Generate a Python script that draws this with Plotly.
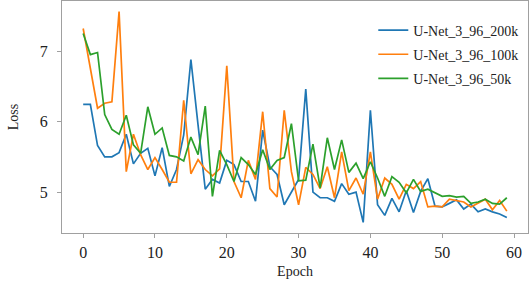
import plotly.graph_objects as go

epochs = list(range(60))

loss_200k = [6.245, 6.245, 5.66, 5.50, 5.50, 5.56, 5.82, 5.40, 5.55, 5.62,
             5.23, 5.63, 5.08, 5.32, 5.81, 6.88, 5.95, 5.04, 5.18, 5.13,
             5.45, 5.39, 5.15, 5.15, 4.87, 5.88, 5.36, 5.25, 4.82, 5.01,
             5.18, 6.46, 5.00, 4.92, 4.92, 4.87, 5.12, 4.97, 5.00, 4.57,
             6.16, 4.82, 4.67, 4.91, 4.72, 5.02, 4.71, 5.01, 5.19, 4.80,
             4.79, 4.84, 4.89, 4.76, 4.83, 4.72, 4.76, 4.72, 4.69, 4.64]

loss_100k = [7.32, 6.76, 6.19, 6.26, 6.28, 7.56, 5.29, 5.82, 5.53, 5.32,
             5.49, 5.32, 5.14, 5.14, 6.30, 5.26, 5.46, 5.32, 5.23, 5.33,
             6.79, 5.15, 4.92, 5.45, 5.18, 6.14, 5.05, 4.93, 6.16, 5.29,
             4.82, 5.35, 5.25, 5.05, 5.36, 4.92, 5.57, 5.02, 5.20, 4.97,
             5.57, 4.90, 5.20, 5.11, 4.90, 5.11, 5.05, 5.15, 4.79, 4.80,
             4.79, 4.90, 4.88, 4.86, 4.79, 4.84, 4.90, 4.75, 4.88, 4.73]

loss_50k = [7.25, 6.95, 6.98, 6.10, 5.89, 5.82, 6.09, 5.67, 5.55, 6.21,
            5.82, 5.91, 5.52, 5.50, 5.44, 5.78, 5.53, 6.22, 4.94, 5.59,
            5.39, 5.15, 5.49, 5.39, 5.25, 5.60, 5.32, 5.45, 5.49, 5.97,
            5.16, 5.17, 5.68, 5.06, 5.77, 5.32, 5.74, 5.28, 5.41, 5.19,
            5.43, 5.20, 4.94, 5.22, 5.14, 4.99, 5.18, 5.01, 5.04, 4.99,
            4.94, 4.95, 4.93, 4.94, 4.84, 4.86, 4.90, 4.84, 4.83, 4.92]

series_names = ["U-Net_3_96_200k", "U-Net_3_96_100k", "U-Net_3_96_50k"]
series_values = [loss_200k, loss_100k, loss_50k]
colors = ["#1f77b4", "#ff7f0e", "#2ca02c"]

x_ticks = [0, 10, 20, 30, 40, 50, 60]
y_ticks = [5, 6, 7]

fig = go.Figure()
for name, vals, c in zip(series_names, series_values, colors):
    fig.add_trace(go.Scatter(x=epochs, y=vals, mode="lines", name=name,
                             legendgroup=name,
                             line=dict(color=c, width=1.7)))

serif = "Liberation Serif, Times New Roman, serif"
frame = "#a0a0a0"
tick_font = dict(family=serif, size=16, color="#222")
fig.update_layout(
    width=532, height=284,
    margin=dict(l=62, r=4, t=1, b=51),
    plot_bgcolor="white", paper_bgcolor="white",
    showlegend=True,
    legend=dict(x=0.668, y=0.942, xanchor="left", yanchor="top",
                traceorder="grouped", tracegroupgap=3,
                font=dict(family=serif, size=14, color="#222"),
                bgcolor="rgba(255,255,255,0)", borderwidth=0),
    xaxis=dict(range=[-2.95, 61.95], tickvals=x_ticks, showgrid=False, zeroline=False,
               showline=True, linecolor=frame, linewidth=1.2, mirror=True,
               ticks="outside", ticklen=4, tickcolor=frame, tickwidth=1,
               tickfont=tick_font, ticklabelstandoff=1, automargin=False,
               title=dict(text="Epoch", font=dict(family=serif, size=14, color="#222"),
                          standoff=5)),
    yaxis=dict(range=[4.42, 7.71], tickvals=y_ticks, showgrid=False, zeroline=False,
               showline=True, linecolor=frame, linewidth=1.2, mirror=True,
               ticks="outside", ticklen=4, tickcolor=frame, tickwidth=1,
               tickfont=tick_font, ticklabelstandoff=6, automargin=False,
               title=dict(text="Loss", font=dict(family=serif, size=14, color="#222"),
                          standoff=17)),
)

fig.write_html("out.html",
               config={"displayModeBar": False},
               post_script="document.body.style.margin='0';document.body.style.overflow='hidden';")
